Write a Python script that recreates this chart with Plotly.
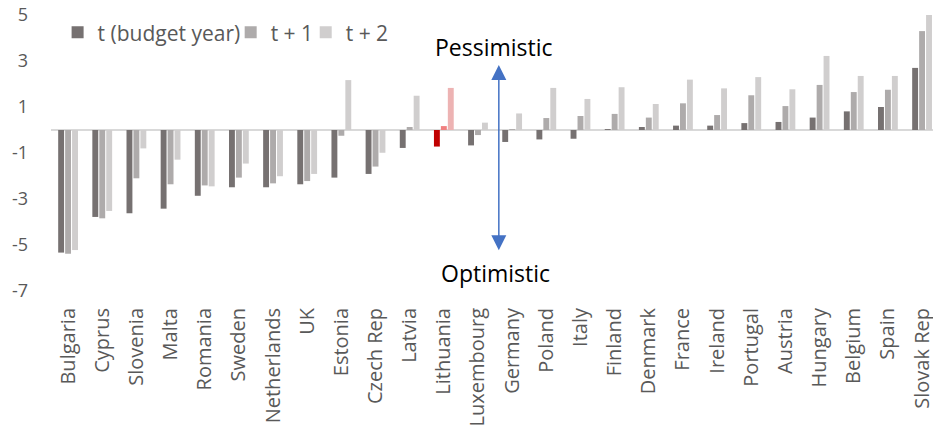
import plotly.graph_objects as go

countries = ["Bulgaria", "Cyprus", "Slovenia", "Malta", "Romania", "Sweden",
             "Netherlands", "UK", "Estonia", "Czech Rep", "Latvia", "Lithuania",
             "Luxembourg", "Germany", "Poland", "Italy", "Finland", "Denmark",
             "France", "Ireland", "Portugal", "Austria", "Hungary", "Belgium",
             "Spain", "Slovak Rep"]

t_budget = [-5.33, -3.78, -3.62, -3.42, -2.86, -2.49, -2.49, -2.36, -2.07, -1.91,
            -0.78, -0.72, -0.67, -0.52, -0.41, -0.38, 0.04, 0.13, 0.19, 0.19,
            0.30, 0.35, 0.54, 0.81, 1.00, 2.70]
t_plus1 = [-5.38, -3.84, -2.10, -2.36, -2.41, -2.07, -2.32, -2.22, -0.25, -1.59,
           0.13, 0.17, -0.22, 0.04, 0.52, 0.61, 0.70, 0.54, 1.16, 0.65,
           1.51, 1.04, 1.96, 1.65, 1.75, 4.30]
t_plus2 = [-5.22, -3.52, -0.80, -1.29, -2.45, -1.46, -2.01, -1.91, 2.17, -0.99,
           1.49, 1.83, 0.32, 0.72, 1.83, 1.35, 1.86, 1.13, 2.19, 1.81,
           2.30, 1.77, 3.22, 2.35, 2.35, 5.01]

series_names = ["t (budget year)", "t + 1", "t + 2"]
y_ticks = [5, 3, 1, -1, -3, -5, -7]

highlight = "Lithuania"
base_colors = ["#767171", "#AEABAB", "#D0CECE"]
hi_colors = ["#C00000", "#F08080", "#EDB3B3"]

FONT = "Open Sans"
fig = go.Figure()
legend_ids = ["legend", "legend2", "legend3"]
for i, (name, vals) in enumerate(zip(series_names, [t_budget, t_plus1, t_plus2])):
    colors = [hi_colors[i] if c == highlight else base_colors[i] for c in countries]
    fig.add_trace(go.Bar(x=countries, y=vals, name=name,
                         marker=dict(color=colors, line=dict(width=0)),
                         legend=legend_ids[i], hoverinfo="skip"))

W, H = 933, 430
ml, mr, mt, mb = 51.4, 0, 15.3, 139
pw = W - ml - mr
ph = H - mt - mb

def ref_x_to_paper(px):
    return (px - ml) / pw

def ref_y_to_paper(py):
    return 1 - (py - mt) / ph

leg_y = ref_y_to_paper(33)
leg_common = dict(orientation="h", yanchor="middle", xanchor="left",
                  font=dict(family=FONT, size=21, color="#595959"),
                  bgcolor="rgba(0,0,0,0)", itemclick=False)
fig.update_layout(
    legend=dict(x=ref_x_to_paper(58), y=leg_y, **leg_common),
    legend2=dict(x=ref_x_to_paper(231), y=leg_y, **leg_common),
    legend3=dict(x=ref_x_to_paper(306), y=leg_y, **leg_common),
)

fig.update_layout(
    template="none",
    width=W, height=H,
    margin=dict(l=ml, r=mr, t=mt, b=mb, pad=0),
    paper_bgcolor="white", plot_bgcolor="white",
    barmode="group", bargap=0.39, bargroupgap=0.15,
    showlegend=True, hovermode=False,
    font=dict(family=FONT, color="#595959"),
)

fig.update_xaxes(
    type="category", range=[-0.5, 25.32], automargin=False,
    tickangle=-90, showgrid=False, zeroline=False, showline=False,
    ticks="", ticklabelstandoff=12, ticklabeloverflow="allow",
    tickfont=dict(family=FONT, size=20, color="#595959"),
)
fig.update_yaxes(
    range=[-7, 5], tickvals=y_ticks, ticktext=[str(v) for v in y_ticks],
    automargin=False, showgrid=False, showline=False, ticks="",
    zeroline=True, zerolinecolor="#D9D9D9", zerolinewidth=1.5,
    ticklabelstandoff=22, ticklabeloverflow="allow",
    tickfont=dict(family=FONT, size=18, color="#595959"),
)

arrow_x = 12.61
fig.add_annotation(x=arrow_x, y=2.83, ax=arrow_x, ay=-5.29,
                   xref="x", yref="y", axref="x", ayref="y",
                   text="", showarrow=True, arrowside="end+start",
                   arrowhead=2, startarrowhead=2, arrowsize=2, startarrowsize=2,
                   arrowwidth=1.5, arrowcolor="#4472C4", standoff=0, startstandoff=0)
fig.add_annotation(x=12.48, y=3.6, xref="x", yref="y", text="Pessimistic",
                   showarrow=False, font=dict(family=FONT, size=23, color="#000000"),
                   xanchor="center", yanchor="middle")
fig.add_annotation(x=12.52, y=-6.22, xref="x", yref="y", text="Optimistic",
                   showarrow=False, font=dict(family=FONT, size=23, color="#000000"),
                   xanchor="center", yanchor="middle")

# remove the default 8px page margin so the figure fills the window exactly
fig.write_html("out.html",
               config={"displayModeBar": False, "staticPlot": True},
               post_script="document.body.style.margin='0';document.body.style.overflow='hidden';")
